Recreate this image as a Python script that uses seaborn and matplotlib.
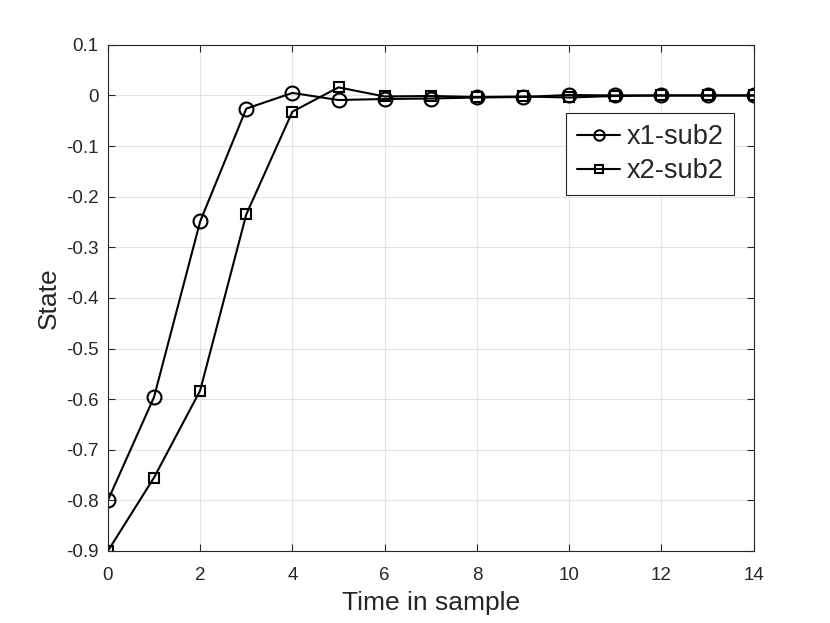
import numpy as np
import pandas as pd
import matplotlib
matplotlib.use("Agg")
import matplotlib.pyplot as plt
import seaborn as sns

# data
t = list(range(15))
x1_sub2 = [-0.80, -0.596, -0.249, -0.026, 0.005, -0.009, -0.007, -0.006,
           -0.004, -0.003, 0.001, 0.0, 0.0, 0.0, 0.0]
x2_sub2 = [-0.90, -0.755, -0.583, -0.235, -0.032, 0.016, -0.002, -0.001,
           -0.003, -0.002, -0.004, -0.001, 0.0, 0.0, 0.0]
y_ticks = [-0.9, -0.8, -0.7, -0.6, -0.5, -0.4, -0.3, -0.2, -0.1, 0, 0.1]
y_tick_labels = ["-0.9", "-0.8", "-0.7", "-0.6", "-0.5", "-0.4", "-0.3",
                 "-0.2", "-0.1", "0", "0.1"]

df = pd.DataFrame({"t": t, "x1-sub2": x1_sub2, "x2-sub2": x2_sub2})
long = df.melt(id_vars="t", var_name="series", value_name="state")

sns.set_theme(style="whitegrid")
plt.rcParams["font.family"] = ["Liberation Sans", "DejaVu Sans"]

fig = plt.figure(figsize=(8.3, 6.23), dpi=100)
ax = fig.add_axes([0.130, 0.1156, 0.778, 0.8124])

sns.lineplot(data=long, x="t", y="state", hue="series", style="series",
             markers={"x1-sub2": "o", "x2-sub2": "s"}, dashes=False,
             palette={"x1-sub2": "black", "x2-sub2": "black"},
             linewidth=1.5, legend=False, ax=ax)
for line, ms in zip(ax.lines, [10, 7.5]):
    line.set_markersize(ms)
    line.set_markerfacecolor("none")
    line.set_markeredgecolor("black")
    line.set_markeredgewidth(1.5)

ax.set_xlim(0, 14)
ax.set_ylim(-0.9, 0.1)
ax.set_xticks(range(0, 15, 2))
ax.set_yticks(y_ticks)
ax.set_yticklabels(y_tick_labels)
ax.set_xlabel("Time in sample", fontsize=19, color="#262626", labelpad=5)
ax.set_ylabel("State", fontsize=19, color="#262626", labelpad=4)
ax.tick_params(axis="x", pad=11.5)
ax.tick_params(axis="y", pad=6.5)
ax.tick_params(axis="both", direction="in", length=5, width=0.8,
               labelsize=13.5, colors="#262626",
               top=True, right=True, bottom=True, left=True)
ax.grid(True, color="#e3e3e3", linewidth=0.8)
ax.set_facecolor("white")
for sp in ax.spines.values():
    sp.set_color("#262626")
    sp.set_linewidth(0.8)

leg = ax.legend(ax.lines[:2], ["x1-sub2", "x2-sub2"], loc="upper right",
                bbox_to_anchor=(0.97, 0.865),
                fontsize=19.5, frameon=True, fancybox=False,
                handlelength=1.6, handletextpad=0.22, borderpad=0.4,
                labelspacing=0.3, borderaxespad=0)
leg.get_frame().set_edgecolor("#262626")
leg.get_frame().set_linewidth(0.8)
leg.get_frame().set_alpha(1)
for h, ms in zip(leg.legend_handles, [7.5, 6]):
    h.set_markersize(ms)
    h.set_markerfacecolor("none")

fig.savefig("out.png", dpi=100)
